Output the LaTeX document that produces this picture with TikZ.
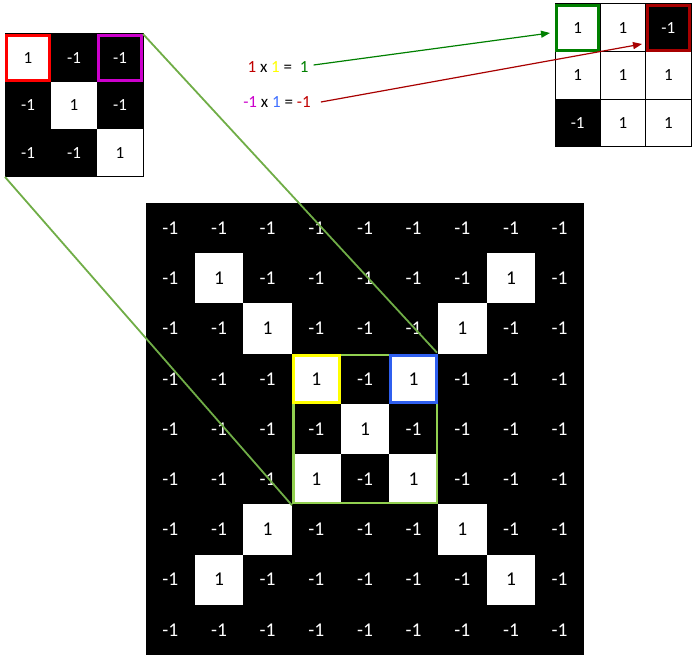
\documentclass[tikz,border=0pt]{standalone}
\usepackage{fontspec}
\setmainfont{Carlito}
\usetikzlibrary{arrows.meta}
\definecolor{txtred}{HTML}{C00000}
\definecolor{boxred}{HTML}{A80000}
\definecolor{dgreen}{HTML}{008000}
\definecolor{yel}{HTML}{FFFF00}
\definecolor{mag}{HTML}{CC00CC}
\definecolor{blubox}{HTML}{2F5FEF}
\definecolor{blutxt}{HTML}{3F6FFF}
\definecolor{lgbox}{HTML}{92D050}
\definecolor{lgline}{HTML}{70AD47}
\tikzset{
  cellbase/.style={rectangle, inner sep=0pt, outer sep=0pt},
  fcell/.style={cellbase, minimum width=46pt, minimum height=47.667pt, font=\fontsize{17}{17}\selectfont},
  rcell/.style={cellbase, draw=black, line width=1pt, minimum width=45.333pt, minimum height=47.667pt, font=\fontsize{17}{17}\selectfont},
  bcell/.style={cellbase, minimum width=48.667pt, minimum height=50.222pt, font=\fontsize{19.5}{19.5}\selectfont},
  v1/.style={fill=white, text=black},
  v-1/.style={fill=black, text=white},
  hl/.style={line width=3pt},
  link/.style={draw=lgline, line width=1.8pt},
  eqtext/.style={inner sep=0pt, font=\fontsize{17}{17}\selectfont},
  arr/.style={line width=1.2pt, -{Triangle[length=9pt,width=7pt]}}
}
\begin{document}
\begin{tikzpicture}[x=1pt,y=-1pt]
\useasboundingbox (0,0) rectangle (697,660);

% filter
\foreach \v [count=\i from 0] in {1,-1,-1,-1,1,-1,-1,-1,1} {
  \pgfmathtruncatemacro\r{floor(\i/3)}
  \pgfmathtruncatemacro\c{mod(\i,3)}
  \node[fcell, v\v] (f\r\c) at ({5+46*(\c+0.5)},{34+47.667*(\r+0.5)}) {\v};
}
\draw[line width=1pt] (f00.north west) rectangle (f22.south east);
\draw[hl, red] ([shift={(1.5,1.5)}]f00.north west) rectangle ([shift={(-1.5,-1.5)}]f00.south east);
\draw[hl, mag] ([shift={(1.5,1.5)}]f02.north west) rectangle ([shift={(-1.5,-1.5)}]f02.south east);

% result
\foreach \v [count=\i from 0] in {1,1,-1,1,1,1,-1,1,1} {
  \pgfmathtruncatemacro\r{floor(\i/3)}
  \pgfmathtruncatemacro\c{mod(\i,3)}
  \node[rcell, v\v] (r\r\c) at ({555+45.333*(\c+0.5)},{4+47.667*(\r+0.5)}) {\v};
}
\draw[hl, dgreen] ([shift={(1.5,1.5)}]r00.north west) rectangle ([shift={(-1.5,-1.5)}]r00.south east);
\draw[hl, boxred] ([shift={(1.5,1.5)}]r02.north west) rectangle ([shift={(-1.5,-1.5)}]r02.south east);

% big image
\fill[black] (146,203) rectangle (584,655);
\foreach \v [count=\i from 0] in {
  -1,-1,-1,-1,-1,-1,-1,-1,-1,
  -1,1,-1,-1,-1,-1,-1,1,-1,
  -1,-1,1,-1,-1,-1,1,-1,-1,
  -1,-1,-1,1,-1,1,-1,-1,-1,
  -1,-1,-1,-1,1,-1,-1,-1,-1,
  -1,-1,-1,1,-1,1,-1,-1,-1,
  -1,-1,1,-1,-1,-1,1,-1,-1,
  -1,1,-1,-1,-1,-1,-1,1,-1,
  -1,-1,-1,-1,-1,-1,-1,-1,-1} {
  \pgfmathtruncatemacro\r{floor(\i/9)}
  \pgfmathtruncatemacro\c{mod(\i,9)}
  \node[bcell, v\v] (b\r\c) at ({146+48.667*(\c+0.5)},{203+50.222*(\r+0.5)}) {\v};
}
\draw[lgbox, line width=2.5pt] ([shift={(1.25,1.25)}]b33.north west) rectangle ([shift={(-1.25,-1.25)}]b55.south east);
\draw[hl, yel] ([shift={(1.5,1.5)}]b33.north west) rectangle ([shift={(-1.5,-1.5)}]b33.south east);
\draw[hl, blubox] ([shift={(1.5,1.5)}]b35.north west) rectangle ([shift={(-1.5,-1.5)}]b35.south east);

% links from filter to image
\draw[link] (f02.north east) -- ([shift={(-1,-1)}]b35.north east);
\draw[link] (f20.south west) -- ([shift={(0,1)}]b53.south west);

% equations
\node[eqtext] (eq1) at (278,67) {\textcolor{txtred}{1} x \textcolor{yel}{1} =\ \ \textcolor{dgreen}{1}};
\node[eqtext] (eq2) at (277,102) {\textcolor{mag}{-1} x \textcolor{blutxt}{1} = \textcolor{txtred}{-1}};

\coordinate (gEnd) at (550,33);
\coordinate (rEnd) at (642,44);
\draw[arr, dgreen] ([shift={(5,-2)}]eq1.east) -- (gEnd);
\draw[arr, boxred] ([shift={(10,0)}]eq2.east) -- (rEnd);
\end{tikzpicture}
\end{document}
